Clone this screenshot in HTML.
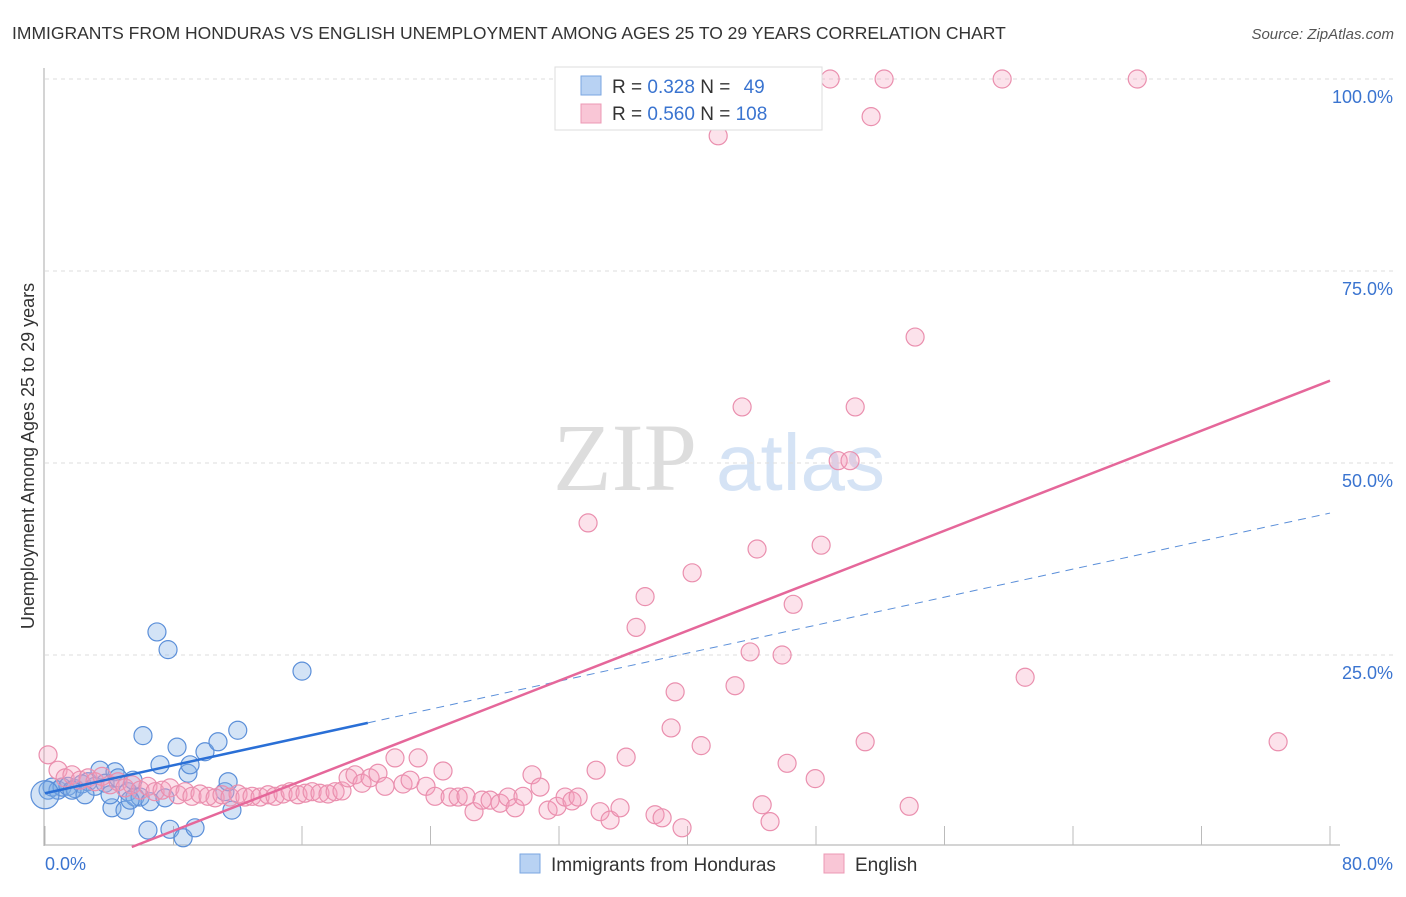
<!DOCTYPE html>
<html><head><meta charset="utf-8"><style>
body{margin:0;background:#fff;font-family:"Liberation Sans",sans-serif}
svg text{font-family:"Liberation Sans",sans-serif}
</style></head><body>
<svg id="c" width="1406" height="892" viewBox="0 0 1406 892" xmlns="http://www.w3.org/2000/svg">
<text x="12" y="39" font-size="17.5" fill="#333">IMMIGRANTS FROM HONDURAS VS ENGLISH UNEMPLOYMENT AMONG AGES 25 TO 29 YEARS CORRELATION CHART</text>
<text x="1394" y="39" font-size="15" fill="#555" font-style="italic" text-anchor="end">Source: ZipAtlas.com</text>
<g><text x="553" y="490" font-size="96" fill="#ddd" font-family="Liberation Serif" style="font-family:'Liberation Serif',serif">ZIP</text><text x="716" y="490" font-size="80" fill="#d5e3f5">atlas</text></g>
<g id="grid"></g><g id="axes"></g><g id="pts"></g><g id="lines"></g>
<text transform="translate(34,456) rotate(-90)" font-size="18" fill="#333" text-anchor="middle">Unemployment Among Ages 25 to 29 years</text>
<g>
<rect x="555" y="67" width="267" height="63" fill="#fff" stroke="#ddd"/>
<rect x="581" y="76" width="20" height="19" fill="#b8d2f3" stroke="#7aa6e0"/>
<rect x="581" y="104" width="20" height="19" fill="#f9c6d6" stroke="#ec98b4"/>
<text x="612" y="93" font-size="19" fill="#333">R = <tspan fill="#3a74d0">0.328</tspan>   N = <tspan fill="#3a74d0" dx="8">49</tspan></text>
<text x="612" y="120" font-size="19" fill="#333">R = <tspan fill="#3a74d0">0.560</tspan>   N = <tspan fill="#3a74d0">108</tspan></text>
</g>
<g>
<rect x="520" y="854" width="20" height="19" fill="#b8d2f3" stroke="#7aa6e0"/>
<text x="551" y="871" font-size="19" fill="#333">Immigrants from Honduras</text>
<rect x="824" y="854" width="20" height="19" fill="#f9c6d6" stroke="#ec98b4"/>
<text x="855" y="871" font-size="19" fill="#333">English</text>
</g>
</svg>
<script>
const xTicks=[0,10,20,30,40,50,60,70,80];
const yTicks=[25,50,75,100];
const blueX=[0.19,0.44,0.81,1.06,1.43,1.87,2.3,2.68,3.11,3.42,3.74,4.17,4.36,4.55,4.98,5.17,5.48,5.6,5.92,6.1,6.41,6.54,6.97,7.16,7.47,7.66,7.78,8.22,8.6,8.9,9.03,9.34,9.96,10.77,11.2,11.4,11.64,12.0,16.0,1.68,2.49,4.05,5.3,0.0];
const blueY=[7.4,7.8,7.4,7.8,7.9,7.6,8.2,8.5,7.9,10.0,8.3,5.1,9.8,9.0,4.8,7.2,8.7,6.5,6.5,14.5,2.2,5.9,28.0,10.7,6.4,25.7,2.3,13.0,1.2,9.6,10.7,2.5,12.4,13.7,7.2,8.5,4.8,15.2,22.9,7.4,6.8,6.8,6.1,6.8];
const pinkX=[0.19,0.81,1.25,1.68,2.18,2.68,3.11,3.55,4.05,4.55,4.98,5.42,5.92,6.41,6.85,7.29,7.78,8.28,8.72,9.15,9.65,10.15,10.59,11.02,11.52,12.02,12.45,12.89,13.39,13.89,14.32,14.82,15.26,15.75,16.19,16.63,17.12,17.62,18.06,18.49,18.87,19.3,19.74,20.24,20.73,21.17,21.79,22.29,22.73,23.23,23.72,24.28,24.78,25.22,25.72,26.21,26.71,27.21,27.71,28.33,28.83,29.27,29.76,30.32,30.82,31.32,31.88,32.38,32.81,33.19,33.81,34.31,34.56,35.18,35.8,36.18,36.8,37.36,37.98,38.42,38.98,39.23,39.66,40.29,40.85,41.91,41.16,42.96,43.4,43.9,44.33,44.65,45.14,45.89,46.2,46.58,47.95,48.32,48.88,49.38,50.12,50.44,51.06,51.43,52.24,53.8,54.17,59.59,61.02,68.0,76.77];
const pinkY=[12.0,10.0,9.0,9.4,8.7,9.0,8.5,9.2,8.1,8.5,7.7,8.1,7.4,7.9,7.2,7.4,7.7,6.8,7.2,6.6,6.9,6.6,6.4,6.8,6.5,6.9,6.5,6.6,6.5,6.8,6.6,6.9,7.2,6.8,7.0,7.2,7.0,6.9,7.2,7.3,9.0,9.4,8.3,9.0,9.6,7.9,11.6,8.2,8.7,11.6,7.9,6.6,9.9,6.5,6.5,6.6,4.6,6.1,6.1,5.7,6.5,5.1,6.6,9.4,7.8,4.8,5.3,6.5,6.0,6.5,42.2,10.0,4.6,3.5,5.1,11.7,28.6,32.6,4.2,3.8,15.5,20.2,2.5,35.7,13.2,92.6,100,21.0,57.3,25.4,38.8,5.5,3.3,25.0,10.9,31.6,8.9,39.3,100,50.3,50.3,57.3,13.7,95.1,100,5.3,66.4,100,22.1,100,13.7];
const blueFit=[7.0,0.456];
const pinkFit=[-4.4,0.814];
const NS="http://www.w3.org/2000/svg";
const sx=v=>45+v*(1330-45)/80, sy=v=>847-v*7.68;
function mk(t,a,p){const e=document.createElementNS(NS,t);for(const k in a)e.setAttribute(k,a[k]);document.getElementById(p).appendChild(e);return e;}
yTicks.forEach(v=>{
 const g=mk('line',{x1:45,x2:1395,y1:sy(v),y2:sy(v),stroke:'#ddd','stroke-dasharray':'4,4'},'grid');
 
 
 const t=mk('text',{x:1393,y:sy(v)+24,'font-size':18,fill:'#3a74d0','text-anchor':'end'},'grid');t.textContent=v.toFixed(1)+'%';
 
 
});
let a=mk('line',{x1:44,x2:44,y1:68,y2:846,stroke:'#aaa'},'axes');


a=mk('line',{x1:44,x2:1340,y1:845,y2:845,stroke:'#aaa'},'axes');


for(let i=0;i<=80;i+=8){const tk=mk('line',{x1:sx(i),x2:sx(i),y1:826,y2:845,stroke:'#bbb'},'axes');
 
 }
[[xTicks[0],'start',45],[xTicks[xTicks.length-1],'end',1393]].forEach(([v,an,x])=>{const t=mk('text',{x:x,y:870,'font-size':18,fill:'#3a74d0','text-anchor':an},'axes');t.textContent=v.toFixed(1)+'%';
 
 });
blueX.forEach((x,i)=>{const c=mk('circle',{cx:sx(x),cy:sy(blueY[i]),r:(i==blueX.length-1?14:9),fill:'rgba(130,175,230,0.35)',stroke:'#5b8fd9','stroke-width':1.2},'pts');
 
 });
pinkX.forEach((x,i)=>{const c=mk('circle',{cx:sx(x),cy:sy(pinkY[i]),r:9,fill:'rgba(245,160,190,0.3)',stroke:'#ea8fae','stroke-width':1.2},'pts');
 
 });
let l=mk('line',{x1:sx(0),y1:sy(blueFit[0]),x2:sx(20.1),y2:sy(blueFit[0]+blueFit[1]*20.1),stroke:'#2a6fd6','stroke-width':2.5},'lines');


l=mk('line',{x1:sx(20.1),y1:sy(blueFit[0]+blueFit[1]*20.1),x2:sx(80),y2:sy(blueFit[0]+blueFit[1]*80),stroke:'#5b8fd9','stroke-width':1,'stroke-dasharray':'8,6'},'lines');


const x0=-pinkFit[0]/pinkFit[1];
l=mk('line',{x1:sx(x0),y1:sy(0),x2:sx(80),y2:sy(pinkFit[0]+pinkFit[1]*80),stroke:'#e5679a','stroke-width':2.5},'lines');


</script>
</body></html>
